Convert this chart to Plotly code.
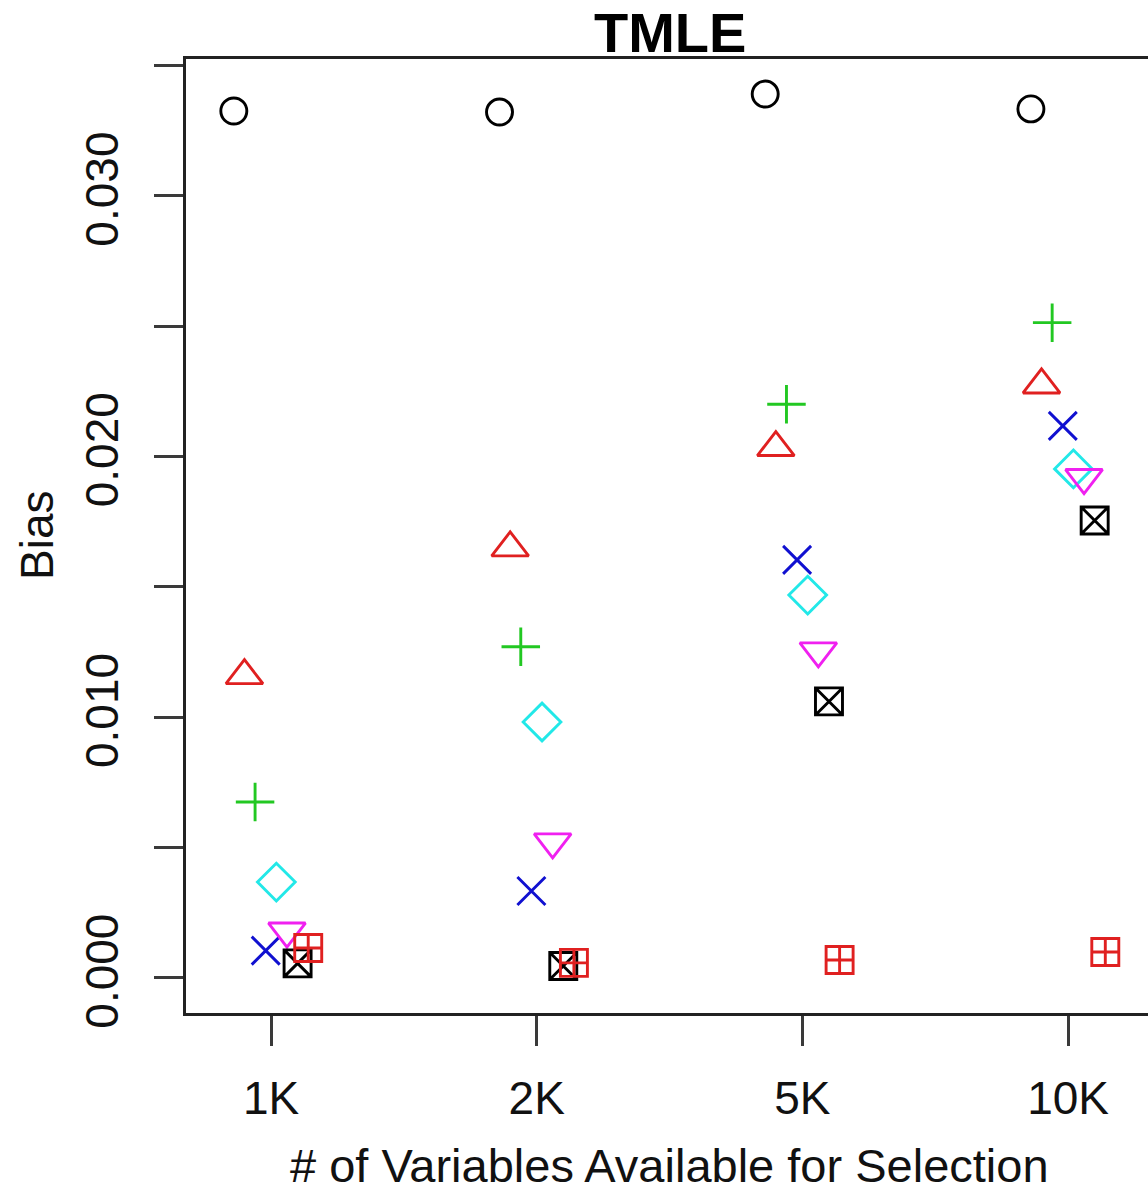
import plotly.graph_objects as go

# ---- data ----
categories = ["1K", "2K", "5K", "10K"]
y_tick_values = [0.0, 0.005, 0.010, 0.015, 0.020, 0.025, 0.030, 0.035]
y_tick_labels = ["0.000", "", "0.010", "", "0.020", "", "0.030", ""]

method_1 = [0.03326, 0.03322, 0.03391, 0.03334]   # circle, black
method_2 = [0.01160, 0.01650, 0.02035, 0.02275]   # triangle up, red
method_3 = [0.00675, 0.01271, 0.02201, 0.02514]   # plus, green
method_4 = [0.00105, 0.00334, 0.01604, 0.02118]   # x, blue
method_5 = [0.00368, 0.00982, 0.01469, 0.01953]   # diamond, cyan
method_6 = [0.00180, 0.00522, 0.01255, 0.01920]   # triangle down, magenta
method_7 = [0.00056, 0.00046, 0.01061, 0.01755]   # boxed x, black
method_8 = [0.00115, 0.00058, 0.00069, 0.00100]   # boxed plus, red

series = [method_1, method_2, method_3, method_4, method_5, method_6, method_7, method_8]
names = ["Method 1", "Method 2", "Method 3", "Method 4", "Method 5", "Method 6", "Method 7", "Method 8"]

# ---- styles ----
symbols = ["circle-open", "triangle-up-open", "cross-thin-open", "x-thin-open",
           "diamond-open", "triangle-down-open", "square-x-open", "square-cross-open"]
colors = ["#000000", "#E02020", "#22C822", "#1010D0", "#22E8E8", "#F020F0", "#000000", "#E02020"]
sizes = [26, 32, 27.5, 28, 29, 32, 27, 27]

FONT = "Liberation Sans, Arial, Helvetica, sans-serif"

fig = go.Figure()
n = len(series)
for j, (vals, nm, sym, col, sz) in enumerate(zip(series, names, symbols, colors, sizes)):
    off = (j - (n - 1) / 2) * 0.04
    xs = [i + 1 + off for i in range(len(categories))]
    fig.add_trace(go.Scatter(
        x=xs, y=vals, mode="markers", name=nm, showlegend=False,
        marker=dict(symbol=sym, size=sz, color=col,
                    line=dict(width=2.9, color=col)),
        cliponaxis=False,
    ))

fig.update_layout(
    width=1148, height=1185,
    margin=dict(l=186, r=0, t=59, b=172, pad=0),
    paper_bgcolor="white", plot_bgcolor="white",
    font=dict(family=FONT, size=46, color="black"),
    showlegend=False,
)

fig.update_xaxes(
    range=[0.68, 1 + (1148 - 271) / 265.7],
    tickmode="array", tickvals=[1, 2, 3, 4], ticktext=categories,
    ticks="outside", ticklen=30, tickwidth=3, tickcolor="#3a3a3a",
    ticklabelstandoff=13,
    showline=True, linecolor="#222222", linewidth=3, mirror=True,
    showgrid=False, zeroline=False,
    tickfont=dict(family=FONT, size=46, color="#111111"),
)
fig.update_yaxes(
    range=[-0.001343, 0.035255],
    tickmode="array", tickvals=y_tick_values, ticktext=y_tick_labels,
    tickangle=-90,
    ticks="outside", ticklen=29, tickwidth=3, tickcolor="#3a3a3a",
    ticklabelstandoff=18,
    showline=True, linecolor="#222222", linewidth=3, mirror=False,
    showgrid=False, zeroline=False,
    tickfont=dict(family=FONT, size=46, color="#111111"),
)

fig.add_annotation(text="<b>TMLE</b>", xref="x", x=2.5, yref="paper", y=1.0,
                   yshift=27, yanchor="middle", xanchor="center", showarrow=False,
                   font=dict(family=FONT, size=56, color="black"))
fig.add_annotation(text="# of Variables Available for Selection", xref="x", x=2.5,
                   yref="paper", y=0.0, yshift=-152, yanchor="middle", xanchor="center",
                   showarrow=False, font=dict(family=FONT, size=47, color="#111111"))
fig.add_annotation(text="Bias", xref="paper", x=0.0, xshift=-149, yref="paper", y=0.5,
                   textangle=-90, xanchor="center", yanchor="middle", showarrow=False,
                   font=dict(family=FONT, size=46, color="#111111"))

fig.write_html("out.html")
